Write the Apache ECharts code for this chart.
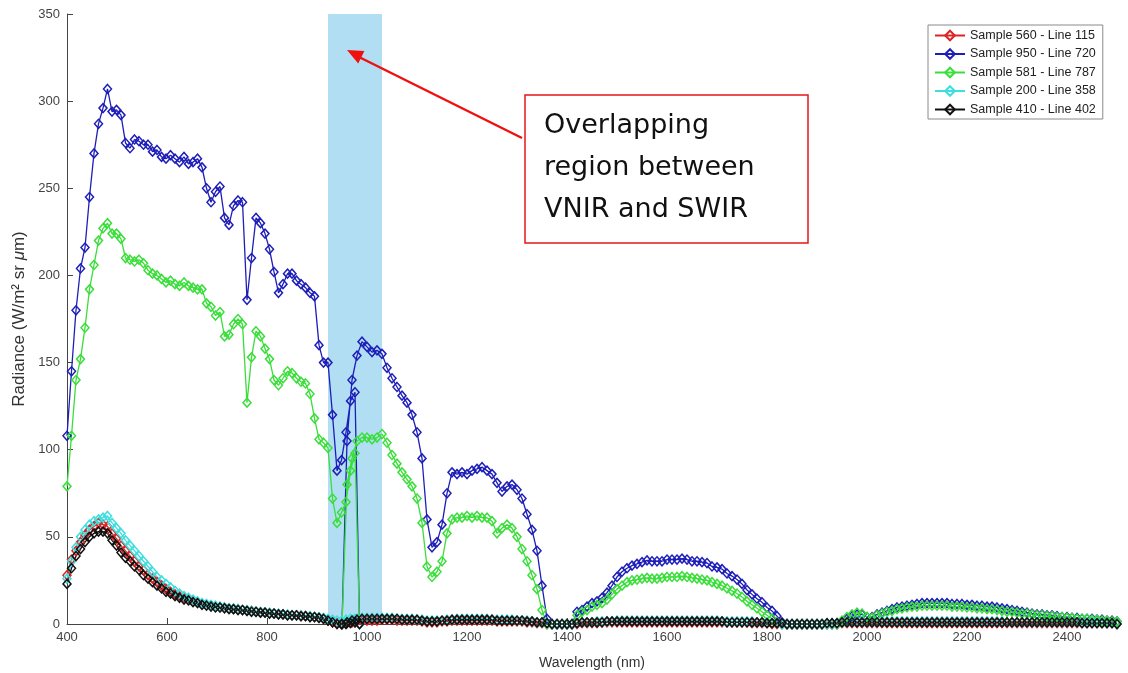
<!DOCTYPE html>
<html>
<head>
<meta charset="utf-8">
<title>Radiance spectra</title>
<script src="https://cdn.jsdelivr.net/npm/echarts@6.0.0/dist/echarts.min.js"></script>
<style>
    html, body { margin: 0; padding: 0; background: #fff; }
    #main { width: 1128px; height: 673px; }
</style>
</head>
<body>
<div id="main"></div>
<script>
//波长 - VNIR 段
var vnirWl = [
    400, 409, 418, 427, 436, 445, 454, 463, 472, 481, 490,
    499, 508, 517, 526, 535, 544, 553, 562, 571, 580, 589,
    598, 607, 616, 625, 634, 643, 652, 661, 670, 679, 688,
    697, 706, 715, 724, 733, 742, 751, 760, 769, 778, 787,
    796, 805, 814, 823, 832, 841, 850, 859, 868, 877, 886,
    895, 904, 913, 922, 931, 940, 949, 958, 967, 976, 985
];
//波长 - SWIR 段
var swirWl = [
    950, 960, 970, 980, 990, 1000, 1010, 1020, 1030, 1040,
    1050, 1060, 1070, 1080, 1090, 1100, 1110, 1120, 1130, 1140,
    1150, 1160, 1170, 1180, 1190, 1200, 1210, 1220, 1230, 1240,
    1250, 1260, 1270, 1280, 1290, 1300, 1310, 1320, 1330, 1340,
    1350, 1360, 1370, 1380, 1390, 1400, 1410, 1420, 1430, 1440,
    1450, 1460, 1470, 1480, 1490, 1500, 1510, 1520, 1530, 1540,
    1550, 1560, 1570, 1580, 1590, 1600, 1610, 1620, 1630, 1640,
    1650, 1660, 1670, 1680, 1690, 1700, 1710, 1720, 1730, 1740,
    1750, 1760, 1770, 1780, 1790, 1800, 1810, 1820, 1830, 1840,
    1850, 1860, 1870, 1880, 1890, 1900, 1910, 1920, 1930, 1940,
    1950, 1960, 1970, 1980, 1990, 2000, 2010, 2020, 2030, 2040,
    2050, 2060, 2070, 2080, 2090, 2100, 2110, 2120, 2130, 2140,
    2150, 2160, 2170, 2180, 2190, 2200, 2210, 2220, 2230, 2240,
    2250, 2260, 2270, 2280, 2290, 2300, 2310, 2320, 2330, 2340,
    2350, 2360, 2370, 2380, 2390, 2400, 2410, 2420, 2430, 2440,
    2450, 2460, 2470, 2480, 2490, 2500
];

//Sample 560 - Line 115
var redVnir = [
    28, 37, 42, 47, 51, 54, 56, 58, 57, 56, 52,
    49, 45, 42, 39, 36, 33, 31, 28, 26, 24, 22,
    20, 18.5, 17, 16, 15, 14, 13, 12.5, 11.5, 11, 10.5,
    10, 9.5, 9.5, 9, 8.5, 8.5, 8, 7.5, 7.5, 7, 6.5,
    6.5, 6, 6, 5.5, 5.5, 5, 5, 5, 4.5, 4.5, 4,
    4, 3.5, 3, 2, 1, 0.5, 0, 0.5, 1, 1, 0
];
var redSwir = [
    0, 0.5, 1, 1.5, 2, 2, 2, 2, 2.5, 2.5,
    2.5, 2, 2, 2, 2, 2, 1.5, 1, 1, 1,
    1.5, 1.5, 2, 2, 2, 2, 2, 2, 2, 2,
    2, 1.5, 1.5, 1.5, 1.5, 1.5, 1.5, 1, 1, 0.5,
    0.5, 0, 0, 0, 0, 0, 0, 0, 0.5, 0.5,
    0.5, 0.5, 1, 1, 1, 1, 1, 1, 1, 1,
    1, 1, 1, 1, 1, 1, 1, 1, 1, 1,
    1, 1, 1, 1, 1, 1, 1, 1, 1, 1,
    1, 1, 0.5, 0.5, 0.5, 0.5, 0, 0, 0, 0,
    0, 0, 0, 0, 0, 0, 0, 0, 0, 0,
    0.5, 0.5, 0.5, 0.5, 0.5, 0.5, 0.5, 0.5, 0.5, 0.5,
    0.5, 0.5, 0.5, 0.5, 0.5, 0.5, 0.5, 0.5, 0.5, 0.5,
    0.5, 0.5, 0.5, 0.5, 0.5, 0.5, 0.5, 0.5, 0.5, 0.5,
    0.5, 0.5, 0.5, 0.5, 0.5, 0.5, 0.5, 0.5, 0.5, 0.5,
    0.5, 0.5, 0.5, 0.5, 0.5, 0.5, 0.5, 0.5, 0.5, 0.5,
    0.5, 0.5, 0.5, 0.5, 0.5, 0
];

//Sample 950 - Line 720
var blueVnir = [
    108, 145, 180, 204, 216, 245, 270, 287, 296, 307, 294,
    295, 292, 276, 273, 278, 277, 275, 275, 271, 272, 268,
    267, 269, 267, 265, 268, 264, 265, 267, 262, 250, 242,
    248, 251, 233, 229, 240, 243, 242, 186, 210, 233, 230,
    224, 215, 202, 190, 195, 201, 201, 197, 195, 193, 190,
    188, 160, 150, 150, 120, 88, 94, 110, 128, 133, 0
];
var blueSwir = [
    0, 105, 140, 154, 162, 159, 156, 157, 155, 147,
    141, 136, 131, 127, 120, 110, 95, 60, 44, 47,
    57, 75, 87, 86, 87, 86, 88, 89, 90, 88,
    86, 81, 76, 79, 80, 77, 72, 63, 54, 42,
    22, 3, 0, 0, 0, 0, 0, 7, 8, 10,
    12, 13, 15, 18, 22, 27, 30, 32, 33.5, 34.5,
    35.5, 36.5, 36, 36, 36, 37, 37, 37, 37.5, 37,
    36, 36, 35.5, 35, 33, 32.5, 31.5, 29, 27.5, 25.5,
    23, 19.5, 17, 14.5, 12.5, 9.5, 7.5, 4.5, 1, 0,
    0, 0, 0, 0, 0, 0, 0, 0, 0, 0,
    1.5, 3, 4.5, 5.5, 5.5, 4, 4, 5.5, 6.5, 7.5,
    8.5, 9.5, 10, 10.5, 11, 11.5, 12, 12, 12, 12,
    12, 12, 11.5, 11.5, 11.5, 11, 11, 10.5, 10.5, 10,
    10, 9.5, 9, 8.5, 8, 7.5, 7, 6.5, 6, 5.5,
    5.5, 5, 5, 4.5, 4, 4, 3.5, 3.5, 3, 3,
    3, 2.5, 2.5, 2, 2, 1.5
];

//Sample 581 - Line 787
var greenVnir = [
    79, 108, 140, 152, 170, 192, 206, 220, 227, 230, 224,
    224, 221, 210, 209, 208, 209, 207, 203, 201, 200, 198,
    196, 197, 195, 194, 196, 194, 193, 192, 192, 184, 182,
    177, 179, 165, 166, 172, 175, 172, 127, 153, 168, 165,
    158, 152, 140, 137, 141, 145, 144, 141, 139, 138, 132,
    118, 106, 104, 101, 72, 58, 64, 70, 88, 98, 0
];
var greenSwir = [
    0, 80, 95, 105, 107, 107, 106, 107, 109, 104,
    97, 92, 87, 83, 79, 72, 58, 33, 27, 30,
    36, 52, 60, 61, 61, 62, 61, 62, 61, 61,
    59, 52, 55, 57, 55, 50, 43, 36, 28, 20,
    8, 0, 0, 0, 0, 0, 0, 5, 7, 8,
    10, 11, 12, 14, 17, 20, 22, 24, 25, 25.5,
    26, 26.5, 26, 26, 26.5, 27, 27, 27, 27.5, 27,
    26.5, 26, 25.5, 25, 24, 23, 22, 20.5, 19, 17.5,
    15.5, 13, 11, 9, 7, 5, 3, 1, 0, 0,
    0, 0, 0, 0, 0, 0, 0, 0, 0, 0,
    2, 4, 5.5, 6.5, 6, 4, 3.5, 5, 6, 7,
    7.5, 8.5, 9, 9.5, 10, 10, 10.5, 10.5, 10.5, 10.5,
    10.5, 10.5, 10, 10, 10, 9.5, 9.5, 9, 9, 8.5,
    8.5, 8, 7.5, 7, 7, 6.5, 6, 6, 5.5, 5,
    5, 4.5, 4.5, 4, 4, 3.5, 3.5, 3, 3, 3,
    2.5, 2.5, 2, 2, 1.5, 1.5
];

//Sample 200 - Line 358
var cyanVnir = [
    26, 36, 44, 50, 54, 57, 59, 60, 61, 62, 58,
    55, 52, 48, 45, 42, 39, 36, 33, 30, 27, 25,
    23, 21, 19, 17.5, 16, 15, 14, 13, 12, 11.5, 11,
    10.5, 10, 9.5, 9, 9, 8.5, 8, 8, 7.5, 7, 7,
    6.5, 6.5, 6, 6, 5.5, 5.5, 5, 5, 5, 4.5, 4.5,
    4, 4, 3.5, 3, 2.5, 2, 2, 2.5, 3, 3, 0
];
var cyanSwir = [
    0, 1.5, 2.5, 3, 3.5, 3.5, 3.5, 3.5, 3.5, 3.5,
    3.5, 3, 3, 3, 3, 2.5, 2.5, 2, 2, 2,
    2, 2.5, 2.5, 3, 3, 3, 3, 3, 3, 3,
    2.5, 2.5, 2.5, 2.5, 2.5, 2, 2, 2, 1.5, 1,
    1, 0.5, 0, 0, 0, 0, 0, 0.5, 1, 1,
    1, 1.5, 1.5, 1.5, 1.5, 2, 2, 2, 2, 2,
    2, 2, 2, 2, 2, 2, 2, 2, 2, 2,
    2, 2, 2, 2, 2, 2, 1.5, 1.5, 1.5, 1.5,
    1.5, 1.5, 1.5, 1, 1, 1, 0.5, 0.5, 0, 0,
    0, 0, 0, 0, 0, 0, 0, 0, 0.5, 0.5,
    1, 1, 1, 1.5, 1.5, 1, 1, 1, 1.5, 1.5,
    1.5, 1.5, 1.5, 1.5, 1.5, 1.5, 1.5, 1.5, 1.5, 1.5,
    1.5, 1.5, 1.5, 1.5, 1.5, 1.5, 1.5, 1.5, 1.5, 1.5,
    1.5, 1.5, 1.5, 1, 1, 1, 1, 1, 1, 1,
    1, 1, 1, 1, 1, 1, 1, 1, 1, 1,
    1, 1, 0.5, 0.5, 0.5, 0
];

//Sample 410 - Line 402
var blackVnir = [
    23, 32, 39, 43, 47, 50, 52, 53, 53, 52, 48,
    45, 41, 38, 36, 33, 31, 28, 26, 24, 22, 20.5,
    18.5, 17.5, 16, 15, 14, 13.5, 12.5, 12, 11, 10.5, 10,
    9.5, 9.5, 9, 8.5, 8.5, 8, 8, 7.5, 7, 7, 6.5,
    6.5, 6, 6, 5.5, 5.5, 5, 5, 5, 4.5, 4.5, 4,
    4, 3.5, 3, 2, 1, 0, 0, 0, 0.5, 1, 0
];
var blackSwir = [
    0, 1, 2, 2.5, 3, 3, 3, 3, 3, 3,
    3, 3, 2.5, 2.5, 2.5, 2.5, 2, 1.5, 1.5, 1.5,
    2, 2, 2.5, 2.5, 2.5, 2.5, 2.5, 2.5, 2.5, 2.5,
    2.5, 2, 2, 2, 2, 2, 2, 1.5, 1.5, 1,
    1, 0.5, 0, 0, 0, 0, 0, 0.5, 1, 1,
    1, 1, 1, 1.5, 1.5, 1.5, 1.5, 1.5, 1.5, 1.5,
    1.5, 1.5, 1.5, 1.5, 1.5, 1.5, 1.5, 1.5, 1.5, 1.5,
    1.5, 1.5, 1.5, 1.5, 1.5, 1.5, 1.5, 1, 1, 1,
    1, 1, 1, 1, 1, 0.5, 0.5, 0.5, 0.5, 0,
    0, 0, 0, 0, 0, 0, 0, 0.5, 0.5, 0.5,
    1, 1, 1, 1, 1, 1, 1, 1, 1, 1,
    1, 1, 1, 1, 1, 1, 1, 1, 1, 1,
    1, 1, 1, 1, 1, 1, 1, 1, 1, 1,
    1, 1, 1, 1, 1, 1, 1, 1, 1, 1,
    1, 1, 1, 1, 1, 1, 1, 1, 0.5, 0.5,
    0.5, 0.5, 0.5, 0.5, 0.5, 0
];

var seriesNames = ['Sample 560 - Line 115', 'Sample 950 - Line 720', 'Sample 581 - Line 787',
    'Sample 200 - Line 358', 'Sample 410 - Line 402'];
var seriesColors = ['#dc2424', '#1e1eb8', '#3ade3a', '#3cdede', '#111111'];
//VNIR / SWIR 重叠区间 (nm)
var overlapBand = [922, 1030];
var yTicks = [0, 350, 50];
var xTicks = [400, 2500, 200];

var tickFont = 'Liberation Sans';

//把波长和数值拼成 [x, y]
function pairs(wl, vals) {
    var out = [];
    for (var i = 0; i < wl.length; i++) {
        out.push([wl[i], vals[i]]);
    }
    return out;
}

function makeSeries(idx, vnir, swir) {
    var c = seriesColors[idx];
    return {
        name: seriesNames[idx],
        type: 'line',
        data: pairs(vnirWl, vnir).concat(pairs(swirWl, swir)),
        symbol: 'diamond',
        symbolSize: [8, 9],
        showAllSymbol: true,
        clip: false,
        z: 3,
        lineStyle: {color: c, width: 1.3},
        itemStyle: {color: 'rgba(255,255,255,0)', borderColor: c, borderWidth: 1.5},
        emphasis: {disabled: true}
    };
}

var myChart = echarts.init(document.getElementById('main'));

var option = {
    animation: false,
    backgroundColor: '#fff',
    //outerBoundsMode: 'none' 防止 v6 自动收缩绘图区
    grid: {left: 67, right: 11, top: 14, bottom: 49, containLabel: false, outerBoundsMode: 'none'},
    legend: {
        orient: 'vertical',
        left: 928,
        top: 25,
        data: seriesNames,
        backgroundColor: '#fff',
        borderColor: '#8a8a8a',
        borderWidth: 1,
        borderRadius: 0,
        padding: [4, 7, 3, 6],
        itemGap: 5.5,
        itemWidth: 30,
        itemHeight: 12,
        selectedMode: false,
        textStyle: {fontFamily: tickFont, fontSize: 12.5, color: '#222'}
    },
    xAxis: {
        type: 'value',
        min: xTicks[0],
        max: xTicks[1],
        interval: xTicks[2],
        name: 'Wavelength (nm)',
        nameLocation: 'middle',
        nameGap: 32,
        nameTextStyle: {fontFamily: tickFont, fontSize: 14, color: '#333'},
        axisLine: {show: true, onZero: false, lineStyle: {color: '#444', width: 1}},
        axisTick: {show: true, inside: true, length: 6, lineStyle: {color: '#444'}},
        axisLabel: {
            showMaxLabel: false, fontFamily: tickFont, fontSize: 13, color: '#444', margin: 7,
            formatter: function (v) { return String(v); }
        },
        splitLine: {show: false}
    },
    yAxis: {
        type: 'value',
        min: yTicks[0],
        max: yTicks[1],
        interval: yTicks[2],
        name: 'Radiance (W/m² sr {it|μ}m)',
        nameLocation: 'middle',
        nameRotate: 90,
        nameGap: 34,
        nameTextStyle: {
            fontFamily: tickFont, fontSize: 17, color: '#333',
            rich: {it: {fontFamily: tickFont, fontSize: 17, color: '#333', fontStyle: 'italic'}}
        },
        axisLine: {show: true, lineStyle: {color: '#444', width: 1}},
        axisTick: {show: true, inside: true, length: 6, lineStyle: {color: '#444'}},
        axisLabel: {fontFamily: tickFont, fontSize: 13, color: '#444', margin: 7},
        splitLine: {show: false}
    },
    series: [
        makeSeries(0, redVnir, redSwir),
        makeSeries(1, blueVnir, blueSwir),
        makeSeries(2, greenVnir, greenSwir),
        makeSeries(3, cyanVnir, cyanSwir),
        makeSeries(4, blackVnir, blackSwir),
        {
            //重叠区域，半透明盖在曲线上
            name: 'overlap',
            type: 'line',
            data: [[overlapBand[0], 0]],
            showSymbol: false,
            silent: true,
            z: 10,
            lineStyle: {opacity: 0},
            markArea: {
                silent: true,
                itemStyle: {color: 'rgba(100,190,230,0.5)'},
                data: [[{xAxis: overlapBand[0]}, {xAxis: overlapBand[1]}]]
            }
        }
    ],
    graphic: [
        {
            type: 'rect', z: 100,
            shape: {x: 525, y: 95, width: 283, height: 148},
            style: {fill: '#fff', stroke: '#e81414', lineWidth: 1.5}
        },
        {
            type: 'text', z: 101, x: 544, y: 105,
            style: {
                text: 'Overlapping\nregion between\nVNIR and SWIR',
                font: '27px "DejaVu Sans"',
                lineHeight: 42,
                fill: '#111'
            }
        },
        {
            type: 'line', z: 100,
            shape: {x1: 522, y1: 138, x2: 359, y2: 57},
            style: {stroke: '#f01010', lineWidth: 2.5}
        },
        {
            type: 'polygon', z: 100,
            shape: {points: [[347, 50], [364.4, 51], [358.2, 63.5]]},
            style: {fill: '#f01010'}
        }
    ]
};

myChart.setOption(option);
</script>
</body>
</html>
